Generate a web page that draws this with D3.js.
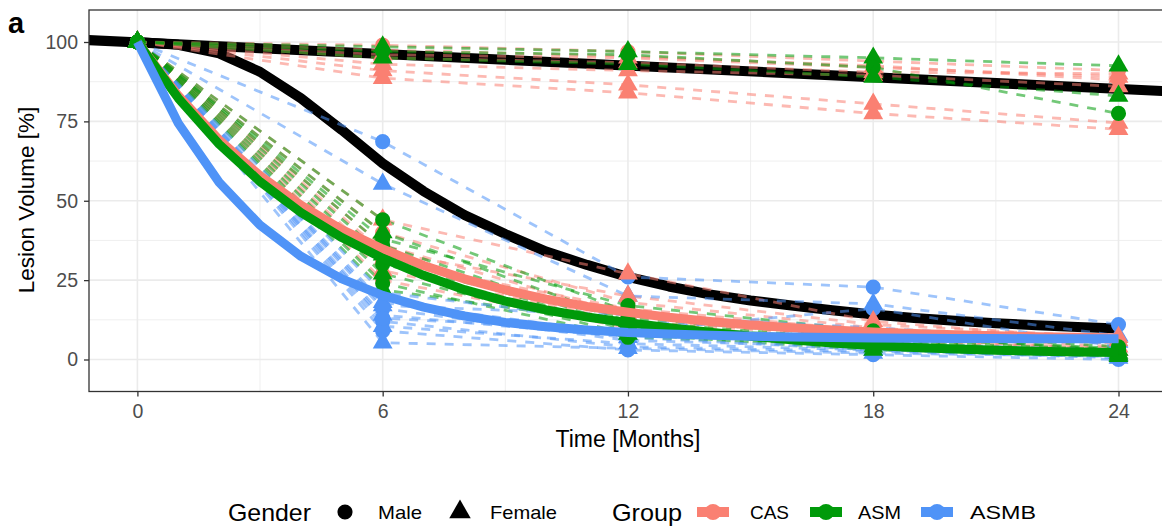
<!DOCTYPE html>
<html>
<head>
<meta charset="utf-8">
<script src="https://cdn.jsdelivr.net/npm/d3@7"></script>
<style>
  body { margin: 0; background: #fff; }
  svg { display: block; font-family: "Liberation Sans", Arial, Helvetica, sans-serif; }
</style>
</head>
<body>
<div class="canvas"></div>
<script>
// ---- data ----
const months = [0, 6, 12, 18, 24];
const groups = ['CAS', 'ASM', 'ASMB'];
const groupColors = ['#FA8072', '#009A0A', '#4F93F7'];
// order in which point layers are stacked (last on top)
const pointOrder = ['ASMB', 'CAS', 'ASM'];

// one entry per patient
const patientGroup = [
  'CAS', 'CAS', 'CAS', 'CAS', 'CAS', 'CAS', 'CAS', 'ASM', 'ASM', 'ASM',
  'CAS', 'CAS', 'CAS', 'CAS', 'CAS', 'CAS', 'CAS',
  'ASM', 'ASM', 'ASM', 'ASM', 'ASM', 'ASM', 'ASM', 'ASM', 'ASM',
  'ASMB', 'ASMB', 'ASMB', 'ASMB', 'ASMB', 'ASMB', 'ASMB', 'ASMB', 'ASMB', 'ASMB', 'ASMB', 'ASMB'
];
const patientGender = [
  'Male', 'Female', 'Female', 'Female', 'Male', 'Female', 'Female', 'Female', 'Male', 'Female',
  'Female', 'Male', 'Female', 'Male', 'Female', 'Male', 'Female',
  'Male', 'Female', 'Male', 'Female', 'Male', 'Female', 'Male', 'Female', 'Male',
  'Male', 'Female', 'Male', 'Female', 'Male', 'Female', 'Male', 'Female', 'Male', 'Female', 'Male', 'Female'
];
// lesion volume [%] at months 0, 6, 12, 18, 24
const patientVolume = [
  [100, 99, 97, 94, 91],
  [100, 88.6, 84, 77.5, 72.5],
  [100, 91, 86.5, 80.5, 74.5],
  [100, 96, 95, 92, 89],
  [100, 97.5, 95.5, 92.5, 88],
  [100, 93, 91, 89.5, 86],
  [100, 95, 93.5, 90.5, 90],
  [100, 98.5, 97, 95, 92.5],
  [100, 97, 96, 92, 77.5],
  [100, 95, 93, 89, 83],

  [100, 44, 27, 12, 6],
  [100, 40, 18, 10, 5],
  [100, 36, 14, 8, 4],
  [100, 31, 16, 9, 5],
  [100, 28, 12, 7, 3],
  [100, 25, 10, 6, 3.5],
  [100, 34, 20, 11, 7],

  [100, 44, 15, 8, 3],
  [100, 40, 12, 6, 2],
  [100, 36, 10, 5, 2.5],
  [100, 33, 9, 4, 1],
  [100, 30, 13, 7, 3.5],
  [100, 27, 8, 3, 1.5],
  [100, 24, 7, 4.5, 2],
  [100, 22, 11, 6, 3],
  [100, 38, 17, 9, 4],

  [100, 68.6, 26, 22.8, 11],
  [100, 55.3, 20, 17.5, 7.5],
  [100, 21, 12, 9, 5],
  [100, 18, 8, 5, 3],
  [100, 16, 6, 4, 2],
  [100, 14, 7, 3, 1.5],
  [100, 12, 4, 2.5, 1],
  [100, 10.5, 5, 3, 0.5],
  [100, 9, 3, 1.5, 0],
  [100, 5.3, 3.5, 2, 1],
  [100, 13, 9, 16, 4],
  [100, 17, 14, 10, 5.5]
];

// fitted curves, one value per month 0..24
const fitMonths = [0, 1, 2, 3, 4, 5, 6, 7, 8, 9, 10, 11, 12, 13, 14, 15, 16, 17, 18, 19, 20, 21, 22, 23, 24];
const casFit  = [100, 83.1, 69.2, 57.9, 48.6, 40.9, 34.8, 29.6, 25.4, 21.9, 19.0, 16.7, 14.9, 13.3, 12.0, 10.9, 10.0, 9.3, 8.7, 8.2, 7.8, 7.5, 7.2, 7.0, 6.8];
const asmFit  = [100, 82.3, 67.8, 56.0, 46.3, 38.4, 31.9, 26.5, 22.0, 18.4, 15.6, 13.4, 11.6, 10.0, 8.6, 7.3, 6.2, 5.2, 4.4, 3.8, 3.3, 2.9, 2.6, 2.4, 2.2];
const asmbFit = [100, 74.4, 55.8, 42.3, 32.5, 25.4, 20.2, 16.5, 13.7, 11.7, 10.3, 9.3, 8.5, 8.0, 7.6, 7.3, 7.1, 6.9, 6.8, 6.7, 6.65, 6.6, 6.55, 6.55, 6.5];
const allFit  = [100, 99.1, 96.4, 90.6, 82.3, 72.3, 61.8, 53.0, 45.5, 39.5, 34.0, 29.8, 26.0, 23.0, 20.5, 18.6, 17.0, 15.5, 14.2, 13.1, 12.2, 11.4, 10.8, 10.2, 9.8];
// straight trend for the non-responders (spans whole panel)
const trendX = [-1.2, 25.2];
const trendY = [100.6, 84.5];

const xTicks = [0, 6, 12, 18, 24];
const yTicks = [0, 25, 50, 75, 100];

// ---- layout ----
const W = 1162, H = 527;
const panel = {left: 89, top: 10, right: 1167, bottom: 391.5};

const svg = d3.select('.canvas')
  .append('svg')
    .attr('width', W)
    .attr('height', H);

const x = d3.scaleLinear().domain([0, 24]).range([137.4, 1118.5]);
const y = d3.scaleLinear().domain([0, 100]).range([359.5, 42]);

svg.append('defs').append('clipPath').attr('id', 'clip')
  .append('rect')
    .attr('x', panel.left).attr('y', panel.top)
    .attr('width', panel.right - panel.left).attr('height', panel.bottom - panel.top);

// grid
const grid = svg.append('g');
const xMinor = [3, 9, 15, 21];
const yMinor = [12.5, 37.5, 62.5, 87.5];
grid.selectAll('.xminor').data(xMinor).enter().append('line')
  .attr('x1', d => x(d)).attr('x2', d => x(d))
  .attr('y1', panel.top).attr('y2', panel.bottom)
  .attr('stroke', '#ebebeb').attr('stroke-width', 0.8);
grid.selectAll('.yminor').data(yMinor).enter().append('line')
  .attr('y1', d => y(d)).attr('y2', d => y(d))
  .attr('x1', panel.left).attr('x2', panel.right)
  .attr('stroke', '#ebebeb').attr('stroke-width', 0.8);
grid.selectAll('.xmajor').data(xTicks).enter().append('line')
  .attr('x1', d => x(d)).attr('x2', d => x(d))
  .attr('y1', panel.top).attr('y2', panel.bottom)
  .attr('stroke', '#ebebeb').attr('stroke-width', 1.6);
grid.selectAll('.ymajor').data(yTicks).enter().append('line')
  .attr('y1', d => y(d)).attr('y2', d => y(d))
  .attr('x1', panel.left).attr('x2', panel.right)
  .attr('stroke', '#ebebeb').attr('stroke-width', 1.6);

const plot = svg.append('g').attr('clip-path', 'url(#clip)');

const colorOf = g => groupColors[groups.indexOf(g)];

// black fits
const fitLine = d3.line().x((d, i) => x(fitMonths[i])).y(d => y(d));
plot.append('path')
  .attr('d', d3.line().x((d, i) => x(trendX[i])).y(d => y(d))(trendY))
  .attr('fill', 'none').attr('stroke', '#000').attr('stroke-width', 10);
plot.append('path')
  .attr('d', fitLine(allFit))
  .attr('fill', 'none').attr('stroke', '#000').attr('stroke-width', 10)
  .attr('stroke-linejoin', 'round');

// patient trajectories
const patLine = d3.line().x((d, i) => x(months[i])).y(d => y(d));
plot.selectAll('.pat').data(patientVolume).enter().append('path')
  .attr('d', d => patLine(d))
  .attr('fill', 'none')
  .attr('stroke', (d, i) => colorOf(patientGroup[i]))
  .attr('stroke-opacity', 0.55)
  .attr('stroke-width', 2.8)
  .attr('stroke-dasharray', '9,9');

// points
const pts = [];
patientVolume.forEach((row, i) => row.forEach((v, j) => pts.push({
  m: months[j], v: v, g: patientGroup[i], s: patientGender[i]
})));
pts.sort((a, b) => pointOrder.indexOf(a.g) - pointOrder.indexOf(b.g));
const circ = d3.symbol().type(d3.symbolCircle).size(180);
const tri = d3.symbol().type(d3.symbolTriangle).size(170);
plot.selectAll('.pt').data(pts).enter().append('path')
  .attr('transform', d => `translate(${x(d.m)},${y(d.v)})`)
  .attr('d', d => d.s === 'Male' ? circ() : tri())
  .attr('fill', d => colorOf(d.g));

// group fits
[casFit, asmFit, asmbFit].forEach((f, k) => {
  plot.append('path')
    .attr('d', fitLine(f))
    .attr('fill', 'none').attr('stroke', groupColors[k]).attr('stroke-width', 9)
    .attr('stroke-linejoin', 'round');
});

// panel border
svg.append('rect')
  .attr('x', panel.left).attr('y', panel.top)
  .attr('width', panel.right - panel.left).attr('height', panel.bottom - panel.top)
  .attr('fill', 'none').attr('stroke', '#333').attr('stroke-width', 1.3);

// axes
const yAxis = svg.append('g')
  .attr('transform', `translate(${panel.left},0)`)
  .call(d3.axisLeft(y).tickValues(yTicks).tickSize(5).tickPadding(6));
const xAxis = svg.append('g')
  .attr('transform', `translate(0,${panel.bottom})`)
  .call(d3.axisBottom(x).tickValues(xTicks).tickSize(5).tickPadding(8));
[xAxis, yAxis].forEach(a => {
  a.select('.domain').remove();
  a.selectAll('line').attr('stroke', '#333').attr('stroke-width', 1.3);
  a.selectAll('text').attr('fill', '#4d4d4d').style('font-size', '19.5px')
    .style('font-family', '"Liberation Sans", Arial, sans-serif');
});

// titles
svg.append('text')
  .attr('x', 628).attr('y', 447)
  .attr('text-anchor', 'middle').style('font-size', '23px')
  .text('Time [Months]');
svg.append('text')
  .attr('transform', 'translate(34,200) rotate(-90)')
  .attr('text-anchor', 'middle').style('font-size', '22.5px')
  .text('Lesion Volume [%]');
svg.append('text')
  .attr('x', 8).attr('y', 33)
  .style('font-size', '29px').style('font-weight', 'bold')
  .text('a');

// legend
const ly = 512;
const leg = svg.append('g');
function legText(t, x0, w, size) {
  leg.append('text')
    .attr('x', x0).attr('y', ly + size * 0.36)
    .attr('textLength', w).attr('lengthAdjust', 'spacingAndGlyphs')
    .style('font-size', size + 'px')
    .text(t);
}
legText('Gender', 228, 83, 24);
leg.append('path').attr('transform', `translate(345,${ly})`)
  .attr('d', d3.symbol().type(d3.symbolCircle).size(180)()).attr('fill', '#000');
legText('Male', 378, 44, 19);
leg.append('path').attr('transform', `translate(460,${ly})`)
  .attr('d', d3.symbol().type(d3.symbolTriangle).size(200)()).attr('fill', '#000');
legText('Female', 490, 67, 19);
legText('Group', 612, 70, 24);
const keyX = [713, 826, 937];
const labX = [750, 858, 970];
const labW = [39, 43, 66];
groups.forEach((g, k) => {
  leg.append('line')
    .attr('x1', keyX[k] - 16).attr('x2', keyX[k] + 16)
    .attr('y1', ly).attr('y2', ly)
    .attr('stroke', groupColors[k]).attr('stroke-width', 10);
  leg.append('circle')
    .attr('cx', keyX[k]).attr('cy', ly).attr('r', 8)
    .attr('fill', groupColors[k]);
  legText(g, labX[k], labW[k], 19);
});
</script>
</body>
</html>
